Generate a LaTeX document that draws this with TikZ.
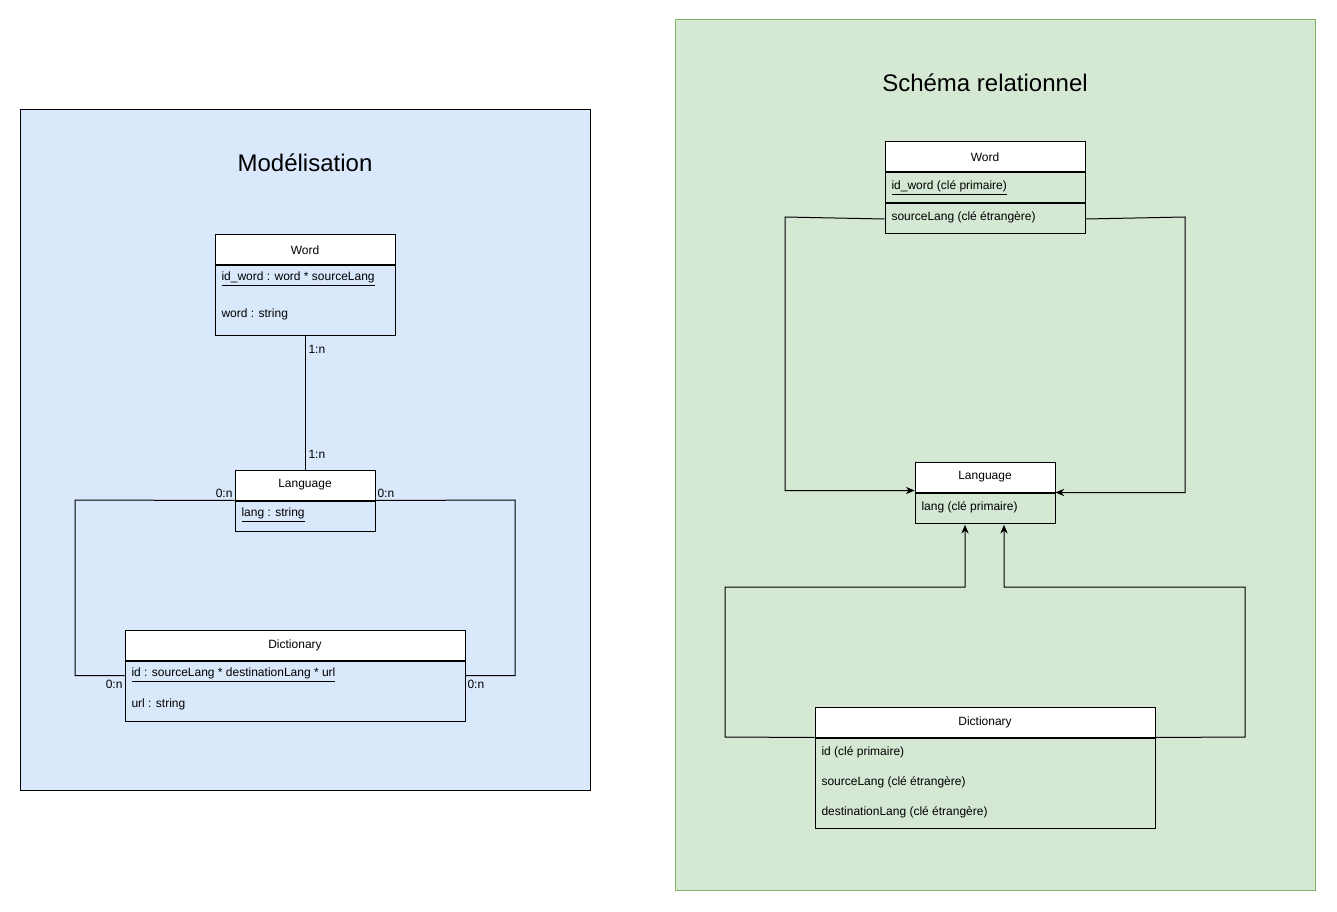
\documentclass[tikz,border=0pt]{standalone}
\usepackage{fontspec}
\setmainfont{Liberation Sans}
\usepackage{tikz}
\usetikzlibrary{arrows.meta}
\tikzset{every picture/.style={line width=0.75pt}}
\definecolor{modelblue}{RGB}{218,232,252}
\definecolor{schemagreen}{RGB}{213,232,212}
\definecolor{schemaedge}{RGB}{130,179,102}
\newcommand{\smallfs}{\fontsize{9}{11}\selectfont}
\newcommand{\titlefs}{\fontsize{18}{22}\selectfont}
\tikzset{
  hdr/.style={draw, fill=white, minimum height=22.5pt, inner sep=0pt, font=\smallfs},
  bodybox/.style={draw, inner sep=0pt, anchor=north},
  attr/.style={anchor=west, inner sep=0pt, font=\smallfs},
  card/.style={inner sep=0.75pt, font=\smallfs},
  fk/.style={-{Stealth[length=6.5pt,width=5.5pt]}}
}

\begin{document}
\begin{tikzpicture}[x=0.75pt,y=0.75pt,yscale=-1,xscale=1]
\useasboundingbox (0,0) rectangle (1337,912);

%Shape: Rectangle [modelisation frame]
\draw [fill=modelblue] (20,110) rectangle (590,790);
%Shape: Rectangle [schema frame]
\draw [draw=schemaedge, fill=schemagreen] (675,20) rectangle (1315,890);

% Text Node
\node [font=\titlefs] (modelTitle) at (305,163) {Modélisation};
% Text Node
\node [font=\titlefs] (schemaTitle) at (985,83) {Schéma relationnel};

%Class: Word
\node [hdr, minimum width=135pt] (wordA) at (305,250) {Word};
\node [bodybox, minimum width=135pt, minimum height=52.5pt] (wordAbody) at (wordA.south) {};
\node [attr] (wordAid) at (221,279) {\underline{id\_word : word * sourceLang}};
\node [attr] (wordAword) at (221,314) {word : string};

%Class: Language
\node [hdr, minimum width=105pt] (langA) at (305,485) {Language};
\node [bodybox, minimum width=105pt, minimum height=22.5pt] (langAbody) at (langA.south) {};
\node [attr] (langAlang) at (241,515) {\underline{lang : string}};

%Class: Dictionary
\node [hdr, minimum width=255pt] (dictA) at (295,645) {Dictionary};
\node [bodybox, minimum width=255pt, minimum height=45pt] (dictAbody) at (dictA.south) {};
\node [attr] (dictAid) at (131,675) {\underline{id : sourceLang * destinationLang * url}};
\node [attr] (dictAurl) at (131,704) {url : string};

%Straight Lines [word - language]
\draw (wordAbody.south) -- (langA.north);
\node [card, anchor=west] (cardWordA) at (307,349) {1:n};
\node [card, anchor=west] (cardLangA) at (307,454) {1:n};

%Straight Lines [language - dictionary, left]
\draw (langA.south west) -- (75,500) |- ([yshift=11.25pt]dictAbody.north west);
\node [card, anchor=east] (cardLangL) at (234,493) {0:n};
\node [card, anchor=east] (cardDictL) at (124,684) {0:n};
%Straight Lines [language - dictionary, right]
\draw (langA.south east) -- (515,500) |- ([yshift=11.25pt]dictAbody.north east);
\node [card, anchor=west] (cardLangR) at (376,493) {0:n};
\node [card, anchor=west] (cardDictR) at (466,684) {0:n};

%Table: Word
\node [hdr, minimum width=150pt] (wordB) at (985,157) {Word};
\node [bodybox, minimum width=150pt, minimum height=22.5pt] (wordBpk) at (wordB.south) {};
\node [bodybox, minimum width=150pt, minimum height=22.5pt] (wordBfk) at (wordBpk.south) {};
\node [attr] (wordBid) at (891,188) {\underline{id\_word (clé primaire)}};
\node [attr] (wordBsrc) at (891,217) {sourceLang (clé étrangère)};

%Table: Language
\node [hdr, minimum width=105pt] (langB) at (985,477) {Language};
\node [bodybox, minimum width=105pt, minimum height=22.5pt] (langBbody) at (langB.south) {};
\node [attr] (langBlang) at (921,507) {lang (clé primaire)};

%Table: Dictionary
\node [hdr, minimum width=255pt] (dictB) at (985,722) {Dictionary};
\node [bodybox, minimum width=255pt, minimum height=67.5pt] (dictBbody) at (dictB.south) {};
\node [attr] (dictBid) at (821,752) {id (clé primaire)};
\node [attr] (dictBsrc) at (821,782) {sourceLang (clé étrangère)};
\node [attr] (dictBdst) at (821,812) {destinationLang (clé étrangère)};

%Foreign keys
\draw [fk] (wordBfk.west) -- (785,217) |- ([yshift=-1.5pt]langB.south west);
\draw [fk] (wordBfk.east) -- (1185,217) |- (langBbody.north east);
\draw [fk] (dictB.south west) -- (725,737) -- (725,587) -| ([xshift=-15pt,yshift=1pt]langBbody.south);
\draw [fk] (dictB.south east) -- (1245,737) -- (1245,587) -| ([xshift=14.25pt,yshift=1pt]langBbody.south);

\end{tikzpicture}
\end{document}
